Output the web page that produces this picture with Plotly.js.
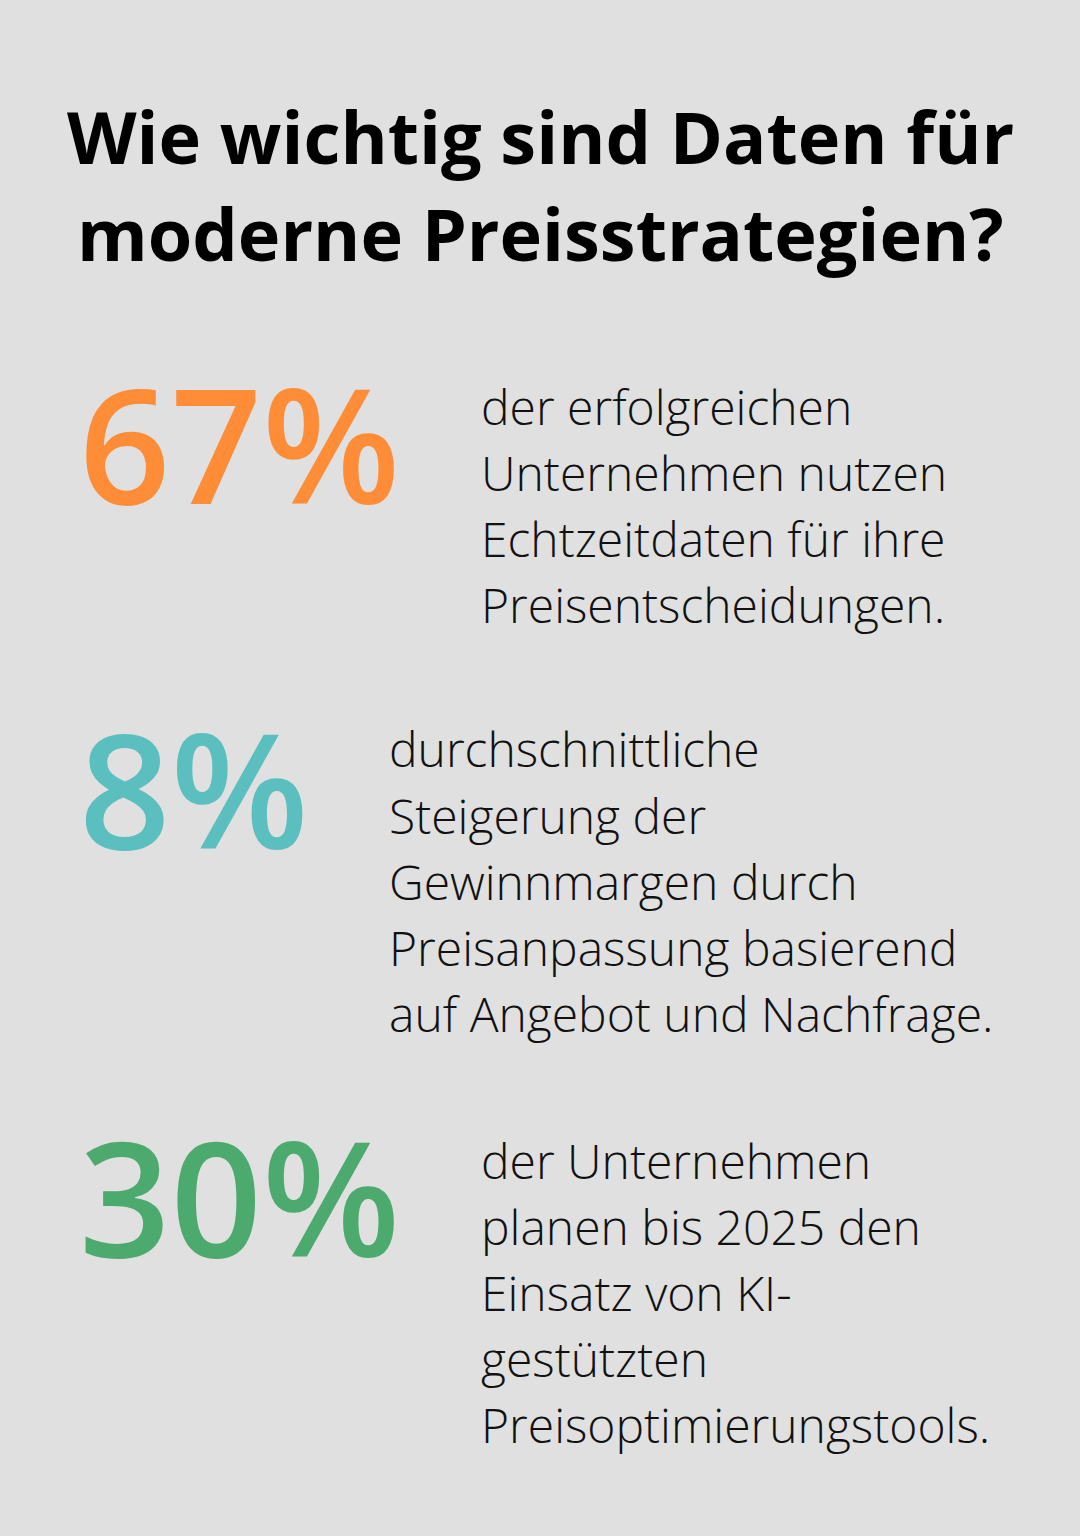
<!DOCTYPE html>
<html>
<head>
<meta charset="utf-8">
<script src="https://cdn.plot.ly/plotly-3.0.1.min.js"></script>
<style>
html,body{margin:0;padding:0;background:#dfe0df;}
#chart{width:1080px;height:1536px;}
</style>
</head>
<body>
<div id="chart"></div>
<script>
// ---- data ----
const titleLines = ["Wie wichtig sind Daten für", "moderne Preisstrategien?"];
const statValues = ["67%", "8%", "30%"];
const statColors = ["#ff8c37", "#5bbfc0", "#4caa6e"];
const statDescriptions = [
  ["der erfolgreichen", "Unternehmen nutzen", "Echtzeitdaten für ihre", "Preisentscheidungen."],
  ["durchschnittliche", "Steigerung der", "Gewinnmargen durch", "Preisanpassung basierend", "auf Angebot und Nachfrage."],
  ["der Unternehmen", "planen bis 2025 den", "Einsatz von KI-", "gestützten", "Preisoptimierungstools."]
];

// ---- layout (pixel positions) ----
const W = 1080, H = 1536;
const px = x => x / W;
const py = y => 1 - y / H;
const FONT = "Open Sans, Noto Sans, sans-serif";

const titleCenters = [136, 233];
const statCenters = [442, 787, 1195];
const descX = [479, 387, 479];
const descFirstCenter = [406, 749, 1160];
const descStep = 66;

const annotations = [];
titleLines.forEach((t, i) => {
  annotations.push({
    text: t, xref: "paper", yref: "paper", x: px(540), y: py(titleCenters[i]),
    xanchor: "center", yanchor: "middle", showarrow: false,
    font: {family: FONT, size: 72, color: "#000000", weight: 700}
  });
});
statValues.forEach((v, i) => {
  annotations.push({
    text: v, xref: "paper", yref: "paper", x: px(77), y: py(statCenters[i]),
    xanchor: "left", yanchor: "middle", showarrow: false,
    font: {family: FONT, size: 160, color: statColors[i], weight: 600}
  });
  statDescriptions[i].forEach((line, j) => {
    annotations.push({
      text: line, xref: "paper", yref: "paper", x: px(descX[i]), y: py(descFirstCenter[i] + j * descStep),
      xanchor: "left", yanchor: "middle", showarrow: false,
      font: {family: FONT, size: 48, color: "#111111", weight: 300}
    });
  });
});

const layout = {
  width: W, height: H,
  margin: {l: 0, r: 0, t: 0, b: 0},
  paper_bgcolor: "#dfe0df", plot_bgcolor: "#dfe0df",
  xaxis: {visible: false, range: [0, 1]},
  yaxis: {visible: false, range: [0, 1]},
  showlegend: false,
  annotations: annotations
};

Plotly.newPlot("chart", [{x: [], y: [], type: "scatter", hoverinfo: "skip"}], layout, {staticPlot: true, displayModeBar: false});
</script>
</body>
</html>
